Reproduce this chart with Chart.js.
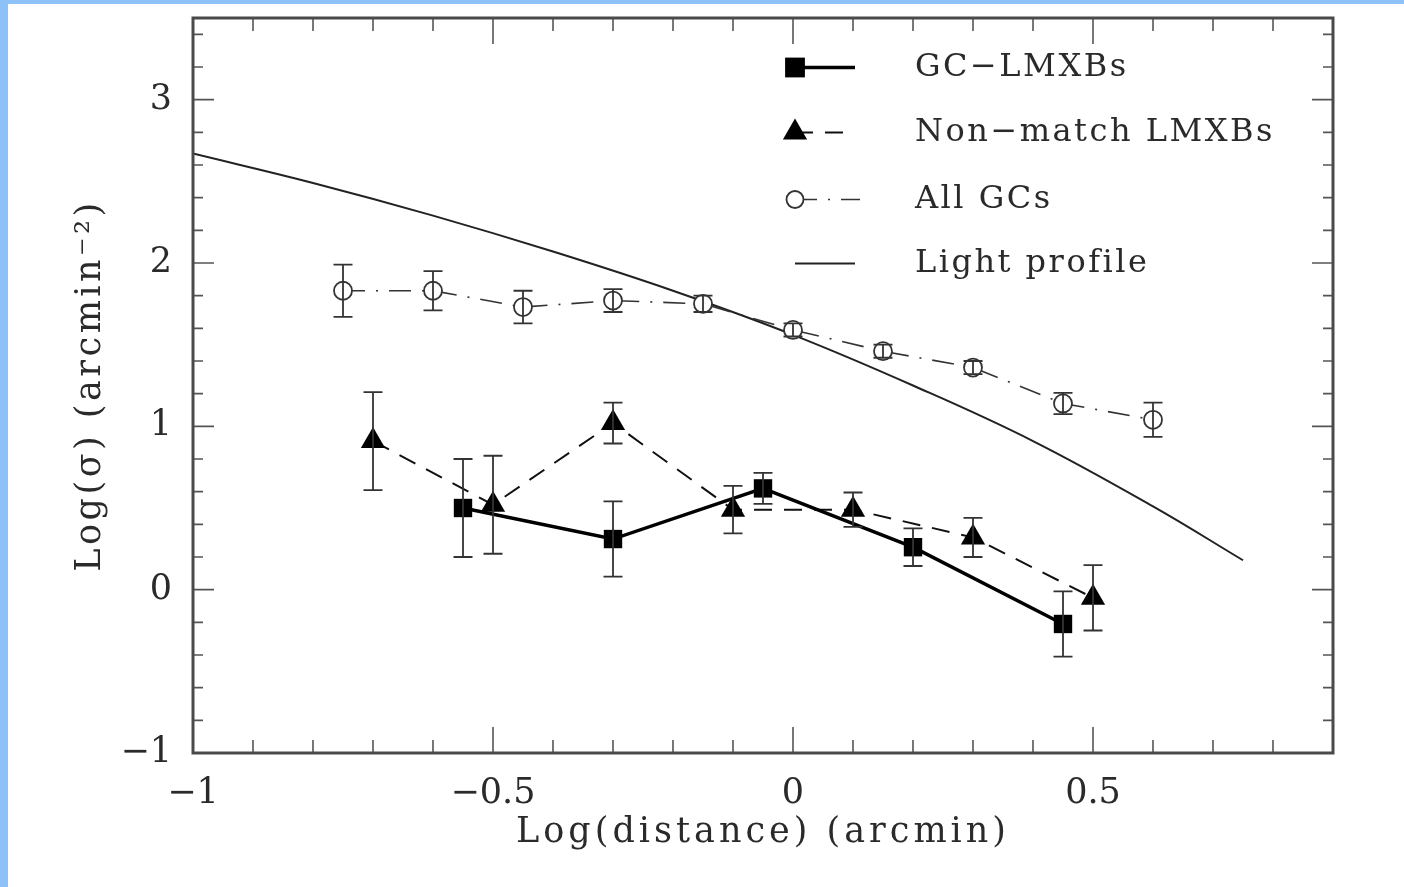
<!DOCTYPE html>
<html><head><meta charset="utf-8">
<script src="https://cdn.jsdelivr.net/npm/chart.js@4/dist/chart.umd.min.js"></script>
<style>
html,body{margin:0;padding:0;width:1404px;height:887px;background:#8fc1f9;overflow:hidden}
#wrap{position:absolute;left:8px;top:4px;width:1396px;height:883px;background:#fff}
canvas{display:block}
</style></head><body><div id="wrap"><canvas id="c" width="1396" height="883"></canvas></div>
<script>
// ---- data ----
const xTicks = [-1, -0.5, 0, 0.5];
const yTicks = [-1, 0, 1, 2, 3];

const gcLmxbX   = [-0.55, -0.3, -0.05, 0.2, 0.45];
const gcLmxbY   = [0.50, 0.31, 0.62, 0.26, -0.21];
const gcLmxbErr = [0.30, 0.23, 0.095, 0.115, 0.20];

const nonMatchX   = [-0.7, -0.5, -0.3, -0.1, 0.1, 0.3, 0.5];
const nonMatchY   = [0.91, 0.52, 1.02, 0.49, 0.49, 0.32, -0.05];
const nonMatchErr = [0.30, 0.30, 0.125, 0.145, 0.105, 0.12, 0.20];

const allGcX   = [-0.75, -0.6, -0.45, -0.3, -0.15, 0, 0.15, 0.3, 0.45, 0.6];
const allGcY   = [1.83, 1.83, 1.73, 1.77, 1.75, 1.59, 1.46, 1.36, 1.14, 1.04];
const allGcErr = [0.16, 0.12, 0.10, 0.07, 0.05, 0.04, 0.04, 0.04, 0.065, 0.105];

const lightX = [-1, -0.8, -0.6, -0.4, -0.2, 0, 0.2, 0.4, 0.6, 0.75];
const lightY = [2.67, 2.49, 2.29, 2.07, 1.83, 1.56, 1.25, 0.91, 0.51, 0.18];

const labels = ['GC\u2212LMXBs', 'Non\u2212match LMXBs', 'All GCs', 'Light profile'];

// ---- helpers ----
const FONT = '"DejaVu Serif", serif';
const TXT = '#2a2a2a';
const pts = (xs, ys) => xs.map((x, i) => ({x: x, y: ys[i]}));
const errSets = [gcLmxbErr, nonMatchErr, allGcErr, null];
const fmt = v => (v < 0 ? '\u2212' + Math.abs(v) : String(v));

const titleSpacing = {x: 4, y: 3.5};
const origDrawTitle = Chart.Scale.prototype.drawTitle;
Chart.Scale.prototype.drawTitle = function () {
  const c = this.ctx;
  c.save();
  c.letterSpacing = (titleSpacing[this.id] || 0) + 'px';
  origDrawTitle.call(this);
  c.restore();
};

const decor = {
  id: 'decor',
  afterDatasetsDraw(chart) {
    const {ctx, scales: {x, y}} = chart;
    ctx.save();
    ctx.strokeStyle = '#333';
    ctx.lineWidth = 1.8;
    errSets.forEach((errs, di) => {
      if (!errs) return;
      chart.data.datasets[di].data.forEach((p, i) => {
        const px = x.getPixelForValue(p.x);
        const t = y.getPixelForValue(p.y + errs[i]);
        const b = y.getPixelForValue(p.y - errs[i]);
        ctx.beginPath();
        ctx.moveTo(px, t); ctx.lineTo(px, b);
        ctx.moveTo(px - 9.5, t); ctx.lineTo(px + 9.5, t);
        ctx.moveTo(px - 9.5, b); ctx.lineTo(px + 9.5, b);
        ctx.stroke();
      });
    });
    ctx.restore();
  },
  afterDraw(chart) {
    const {ctx, chartArea: a, scales: {x, y}} = chart;
    ctx.save();
    // minor / major tick marks on all four sides
    ctx.strokeStyle = '#555';
    ctx.lineWidth = 1.6;
    ctx.beginPath();
    for (let k = -10; k <= 9; k++) {
      const px = x.getPixelForValue(k / 10);
      const L = (k % 5 === 0) ? 26 : 13;
      ctx.moveTo(px, a.bottom); ctx.lineTo(px, a.bottom - L);
      ctx.moveTo(px, a.top); ctx.lineTo(px, a.top + L);
    }
    for (let k = -5; k <= 17; k++) {
      const py = y.getPixelForValue(k / 5);
      const L = (k % 5 === 0) ? 21 : 10;
      ctx.moveTo(a.left, py); ctx.lineTo(a.left + L, py);
      ctx.moveTo(a.right, py); ctx.lineTo(a.right - L, py);
    }
    ctx.stroke();
    // frame
    ctx.strokeStyle = '#4a4a4a';
    ctx.lineWidth = 3;
    ctx.strokeRect(a.left, a.top, a.right - a.left, a.bottom - a.top);

    // legend
    const symX = a.left + 602, lineEnd = a.left + 662, textX = a.left + 722;
    const rowsY = [a.top + 49.5, a.top + 114.5, a.top + 181.5, a.top + 245.5];
    const mk = [
      {style: 'rect', r: 14}, {style: 'triangle', r: 14}, {style: 'circle', r: 8.5}, null
    ];
    chart.data.datasets.forEach((ds, i) => {
      const yy = rowsY[i];
      ctx.save();
      ctx.strokeStyle = ds.borderColor;
      ctx.lineWidth = ds.borderWidth;
      ctx.setLineDash(ds.borderDash || []);
      ctx.beginPath();
      ctx.moveTo(symX, yy); ctx.lineTo(i === 2 ? lineEnd + 5 : lineEnd, yy);
      ctx.stroke();
      ctx.setLineDash([]);
      if (mk[i]) {
        ctx.fillStyle = ds.pointBackgroundColor;
        ctx.strokeStyle = ds.pointBorderColor;
        ctx.lineWidth = ds.pointBorderWidth;
        Chart.helpers.drawPoint(ctx, {pointStyle: mk[i].style, rotation: 0, radius: mk[i].r, borderWidth: ds.pointBorderWidth}, symX, yy);
      }
      ctx.restore();
      ctx.save();
      ctx.fillStyle = TXT;
      ctx.font = '32px ' + FONT;
      ctx.letterSpacing = '2.5px';
      ctx.textBaseline = 'middle';
      ctx.textAlign = 'left';
      ctx.fillText(ds.label, textX, yy);
      ctx.restore();
    });
    ctx.restore();
  }
};

Chart.defaults.font.family = FONT;

new Chart(document.getElementById('c'), {
  type: 'scatter',
  data: {
    datasets: [
      {label: labels[0], data: pts(gcLmxbX, gcLmxbY), showLine: true,
       borderColor: '#000', borderWidth: 3.5,
       pointStyle: 'rect', pointRadius: 13, pointBackgroundColor: '#000', pointBorderColor: '#000', pointBorderWidth: 0, order: 0},
      {label: labels[1], data: pts(nonMatchX, nonMatchY), showLine: true,
       borderColor: '#111', borderWidth: 2, borderDash: [18, 12],
       pointStyle: 'triangle', pointRadius: 14, pointBackgroundColor: '#000', pointBorderColor: '#000', pointBorderWidth: 0, order: 1},
      {label: labels[2], data: pts(allGcX, allGcY), showLine: true,
       borderColor: '#333', borderWidth: 1.6, borderDash: [22, 11, 2, 11],
       pointStyle: 'circle', pointRadius: 9, pointBackgroundColor: '#fff', pointBorderColor: '#333', pointBorderWidth: 1.8, order: 2},
      {label: labels[3], data: pts(lightX, lightY), showLine: true,
       borderColor: '#222', borderWidth: 2, pointRadius: 0, tension: 0.4, order: 3}
    ]
  },
  options: {
    responsive: false,
    animation: false,
    events: [],
    devicePixelRatio: 1,
    layout: {padding: {left: 0, right: 71, top: 11.5, bottom: 0}},
    plugins: {legend: {display: false}, tooltip: {enabled: false}},
    scales: {
      x: {
        type: 'linear', min: -1, max: 0.9,
        afterBuildTicks: s => { s.ticks = xTicks.map(v => ({value: v})); },
        afterFit: s => { s.height = 134; s.paddingLeft = 0; s.paddingRight = 0; },
        grid: {display: false, drawTicks: false},
        border: {display: false},
        ticks: {padding: 19.5, color: TXT, font: {family: FONT, size: 35}, maxRotation: 0, autoSkip: false, callback: v => fmt(v)},
        title: {display: true, text: 'Log(distance) (arcmin)', color: TXT, font: {family: FONT, size: 35}, padding: {top: 0, bottom: 33.4}}
      },
      y: {
        type: 'linear', min: -1, max: 3.5,
        afterBuildTicks: s => { s.ticks = yTicks.map(v => ({value: v})); },
        afterFit: s => { s.width = 185; s.paddingTop = 0; s.paddingBottom = 0; },
        grid: {display: false, drawTicks: false},
        border: {display: false},
        ticks: {padding: 21, color: TXT, font: {family: FONT, size: 35}, autoSkip: false, callback: v => fmt(v)},
        title: {display: true, text: 'Log(\u03c3) (arcmin\u207b\u00b2)', color: TXT, font: {family: FONT, size: 35}, padding: {top: 61.9, bottom: 0}}
      }
    }
  },
  plugins: [decor]
});
</script></body></html>
